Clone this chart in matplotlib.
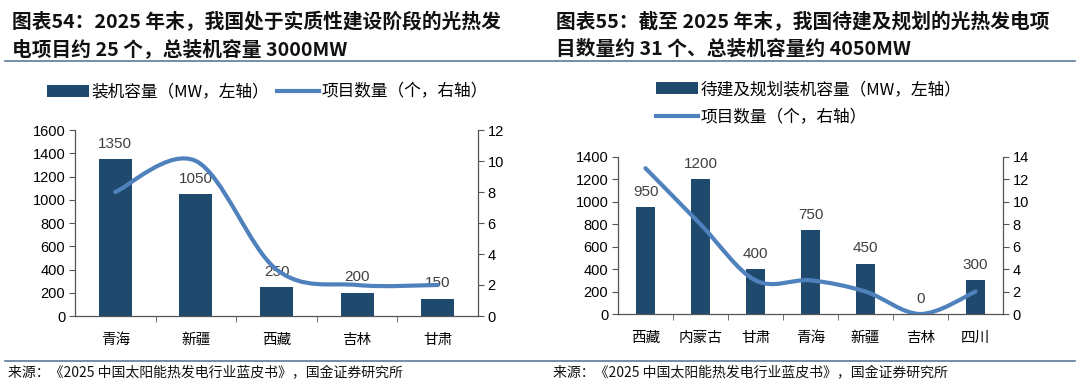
import numpy as np
import matplotlib
matplotlib.use("Agg")
import matplotlib.pyplot as plt
from matplotlib.path import Path
from matplotlib.patches import PathPatch, Patch
from matplotlib.lines import Line2D

# ---------------- data ----------------
title1_l1 = "图表54：2025 年末，我国处于实质性建设阶段的光热发"
title1_l2 = "电项目约 25 个，总装机容量 3000MW"
cats1 = ["青海", "新疆", "西藏", "吉林", "甘肃"]
cap1 = [1350, 1050, 250, 200, 150]
cnt1 = [8, 10, 3, 2, 2]
leg1_bar = "装机容量（MW，左轴）"
leg1_line = "项目数量（个，右轴）"

title2_l1 = "图表55：截至 2025 年末，我国待建及规划的光热发电项"
title2_l2 = "目数量约 31 个、总装机容量约 4050MW"
cats2 = ["西藏", "内蒙古", "甘肃", "青海", "新疆", "吉林", "四川"]
cap2 = [950, 1200, 400, 750, 450, 0, 300]
cnt2 = [13, 8, 3, 3, 2, 0, 2]
leg2_bar = "待建及规划装机容量（MW，左轴）"
leg2_line = "项目数量（个，右轴）"

source = "来源：《2025 中国太阳能热发电行业蓝皮书》，国金证券研究所"

# ---------------- style ----------------
BAR = "#1F4A6E"
LINE = "#4F81BD"
SEP = "#5B7A99"
CJK = ["Noto Sans CJK SC", "DejaVu Sans"]
NUM = ["Liberation Sans", "DejaVu Sans"]

W, H = 1080, 385
fig = plt.figure(figsize=(W / 100, H / 100), dpi=100)


def fx(px):
    return px / W


def fy(py):
    return 1 - py / H


def smooth_path(xs, ys):
    pts = np.column_stack([xs, ys]).astype(float)
    n = len(pts)
    verts = [pts[0]]
    codes = [Path.MOVETO]
    for i in range(n - 1):
        p0 = pts[i - 1] if i > 0 else pts[i]
        p1 = pts[i]
        p2 = pts[i + 1]
        p3 = pts[i + 2] if i + 2 < n else pts[i + 1]
        c1 = p1 + (p2 - p0) / 6.0
        c2 = p2 - (p3 - p1) / 6.0
        verts += [c1, c2, p2]
        codes += [Path.CURVE4] * 3
    return Path(verts, codes)


def panel(box, cats, caps, cnts, ymax1, ystep1, ymax2, ystep2, barw):
    l, t, r, b = box
    ax = fig.add_axes([fx(l), fy(b), fx(r - l), (b - t) / H])
    x = np.arange(len(cats))
    ax.bar(x, caps, width=barw, color=BAR, zorder=2)
    ax.set_xlim(-0.5, len(cats) - 0.5)
    ax.set_ylim(0, ymax1)
    ax.set_yticks(np.arange(0, ymax1 + 1, ystep1))
    ax.set_xticks(x)
    ax.set_xticklabels(cats, fontfamily=CJK, fontsize=10.5)
    ax.set_xticks(np.arange(0.5, len(cats) - 1, 1), minor=True)
    ax.tick_params(axis="x", which="major", length=0, pad=12)
    ax.tick_params(axis="x", which="minor", length=4, direction="out", color="#555555")
    ax.tick_params(axis="y", length=4, direction="out", color="#555555", pad=3)
    for lab in ax.get_yticklabels():
        lab.set_fontfamily(NUM)
        lab.set_fontsize(10.5)
    for s in ["top", "right"]:
        ax.spines[s].set_visible(False)
    for s in ["left", "bottom"]:
        ax.spines[s].set_color("#555555")
        ax.spines[s].set_linewidth(0.9)
    for xi, v in zip(x, caps):
        ax.annotate(f"{v}", (xi, v), xytext=(0, 6), textcoords="offset points",
                    ha="center", va="bottom", fontsize=11, fontfamily=NUM,
                    color="#404040", zorder=5)
    ax2 = ax.twinx()
    ax2.set_ylim(0, ymax2)
    ax2.set_yticks(np.arange(0, ymax2 + 1, ystep2))
    ax2.tick_params(axis="y", length=4, direction="out", color="#555555", pad=3)
    for lab in ax2.get_yticklabels():
        lab.set_fontfamily(NUM)
        lab.set_fontsize(10.5)
    for s in ["top", "left", "bottom"]:
        ax2.spines[s].set_visible(False)
    ax2.spines["right"].set_color("#555555")
    ax2.spines["right"].set_linewidth(0.9)
    path = smooth_path(x, cnts)
    ax2.add_patch(PathPatch(path, facecolor="none", edgecolor=LINE, lw=3,
                            capstyle="round", joinstyle="round", zorder=3))
    ax2.set_xlim(-0.5, len(cats) - 0.5)
    return ax, ax2


panel((75, 130, 478, 316), cats1, cap1, cnt1, 1600, 200, 12, 2, 0.41)
panel((618, 157, 1003, 314), cats2, cap2, cnt2, 1400, 200, 14, 2, 0.36)

# titles
tkw = dict(fontfamily=CJK, fontsize=14.2, fontweight="bold", color="#111111",
           va="center", ha="left")
fig.text(fx(12), fy(22), title1_l1, **tkw)
fig.text(fx(12), fy(49), title1_l2, **tkw)
fig.text(fx(556), fy(22), title2_l1, **tkw)
fig.text(fx(556), fy(49), title2_l2, **tkw)

# separators
fig.add_artist(Line2D([fx(5), fx(1075)], [fy(61), fy(61)], color=SEP, lw=1.2))
fig.add_artist(Line2D([fx(5), fx(1075)], [fy(361), fy(361)], color=SEP, lw=1.2))

# sources
skw = dict(fontfamily=CJK, fontsize=10, color="#111111", va="center", ha="left")
fig.text(fx(8), fy(373), source, **skw)
fig.text(fx(553), fy(373), source, **skw)

# legends
bar_h = Patch(facecolor=BAR, edgecolor="none")
line_h = Line2D([], [], color=LINE, lw=3)
lkw = dict(frameon=False, prop={"family": CJK, "size": 12}, handlelength=2.5,
           handletextpad=0.15, borderaxespad=0, borderpad=0)
fig.legend([bar_h, line_h], [leg1_bar, leg1_line], loc="center left",
           bbox_to_anchor=(fx(47), fy(92)), ncol=2, columnspacing=0.5, **lkw)
fig.legend([bar_h, line_h], [leg2_bar, leg2_line], loc="upper left",
           bbox_to_anchor=(fx(656), fy(81)), ncol=1, labelspacing=0.65, **lkw)

fig.savefig("out.png", dpi=100)
